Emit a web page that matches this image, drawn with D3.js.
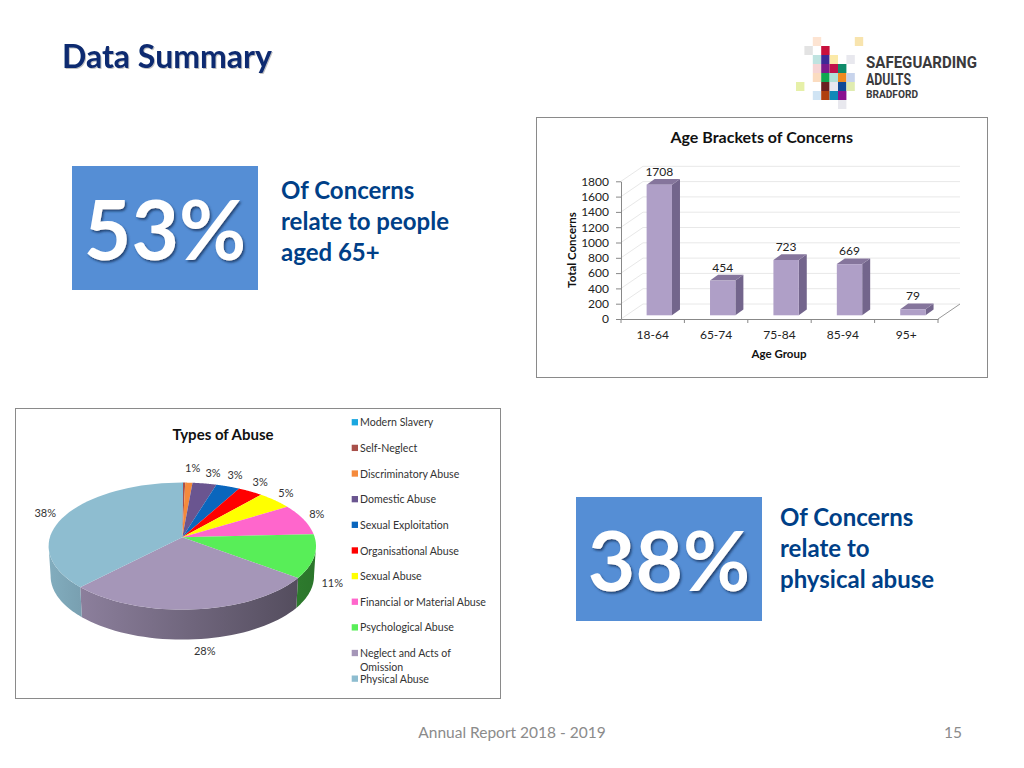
<!DOCTYPE html>
<html>
<head>
<meta charset="utf-8">
<title>Data Summary</title>
<script src="https://cdn.jsdelivr.net/npm/d3@7"></script>
<style>
  html, body { margin: 0; padding: 0; background: #fff; }
  svg { display: block; font-family: Lato, "Open Sans", sans-serif; }
</style>
</head>
<body>
<svg id="slide" width="1024" height="768"></svg>
<script>
// ── DATA ──────────────────────────────────────────────────────────
const ageGroups = ['18-64', '65-74', '75-84', '85-94', '95+'];
const ageConcerns = [1708, 454, 723, 669, 79];
const concernTicks = [0, 200, 400, 600, 800, 1000, 1200, 1400, 1600, 1800];

const abuseTypes = ['Modern Slavery', 'Self-Neglect', 'Discriminatory Abuse', 'Domestic Abuse',
  'Sexual Exploitation', 'Organisational Abuse', 'Sexual Abuse', 'Financial or Material Abuse',
  'Psychological Abuse', 'Neglect and Acts of Omission', 'Physical Abuse'];
const abuseShares = [0.1, 0.3, 1, 3.3, 3.3, 3.4, 4.8, 8, 11, 27, 37.8];
const abuseLabels = ['', '', '1%', '3%', '3%', '3%', '5%', '8%', '11%', '28%', '38%'];
const abuseColors = ['#1aa7e0', '#a8504a', '#f58a3c', '#6a5590', '#0a66bd', '#ff0000',
  '#ffff00', '#ff66cc', '#58ee58', '#a596b8', '#8ebdd0'];

const logoCells = [
  [2, 0, '#fde4d2'], [7, 0, '#f8e4ae'], [1, 1, '#e3e3e3'], [3, 1, '#c8103c'],
  [2, 2, '#bfe3e0'], [3, 2, '#3c2a96'], [4, 2, '#fbe9a8'], [6, 2, '#e8e8ee'],
  [2, 3, '#f6d5d5'], [3, 3, '#7b1a8a'], [4, 3, '#c0104a'], [5, 3, '#0e8a6a'],
  [2, 4, '#fbdcc0'], [3, 4, '#10a850'], [4, 4, '#b0e0d8'], [5, 4, '#f08a20'], [6, 4, '#c8d4ec'],
  [0, 5, '#e6f0a8'], [3, 5, '#6a2020'], [4, 5, '#e8e8f0'], [5, 5, '#104a96'], [6, 5, '#e0ecb0'],
  [2, 6, '#d0e4f4'], [3, 6, '#b0400e'], [4, 6, '#1088b8'], [5, 6, '#8a1090'], [5, 7, '#e8e8ee']
];

const svg = d3.select('#slide');
const defs = svg.append('defs');

const bigShadow = defs.append('filter').attr('id', 'bigShadow')
  .attr('x', '-10%').attr('y', '-10%').attr('width', '120%').attr('height', '120%');
bigShadow.append('feDropShadow').attr('dx', 1.5).attr('dy', 2)
  .attr('stdDeviation', 1).attr('flood-color', '#1c3c6c').attr('flood-opacity', 0.9);

const titleShadow = defs.append('filter').attr('id', 'titleShadow');
titleShadow.append('feDropShadow').attr('dx', 1).attr('dy', 1)
  .attr('stdDeviation', 0.6).attr('flood-color', '#000').attr('flood-opacity', 0.25);

// ── SLIDE FURNITURE ───────────────────────────────────────────────
svg.append('text').attr('x', 62).attr('y', 68)
  .attr('font-size', 32).attr('font-weight', 700).attr('fill', '#0b2a6f')
  .attr('filter', 'url(#titleShadow)').text('Data Summary');

function statBox(x, y, big, textX, textY, lines) {
  svg.append('rect').attr('x', x).attr('y', y).attr('width', 186).attr('height', 124).attr('fill', '#558ed5');
  svg.append('text').attr('x', x + 93).attr('y', y + 94).attr('text-anchor', 'middle')
    .attr('font-size', 82).attr('font-weight', 700).attr('fill', '#fff')
    .attr('filter', 'url(#bigShadow)').text(big);
  lines.forEach((l, i) => {
    svg.append('text').attr('x', textX).attr('y', textY + i * 30.8)
      .attr('font-size', 24).attr('font-weight', 700).attr('fill', '#003f87').text(l);
  });
}
statBox(72, 166, '53%', 281, 199, ['Of Concerns', 'relate to people', 'aged 65+']);
statBox(576, 497, '38%', 780, 526, ['Of Concerns', 'relate to', 'physical abuse']);

svg.append('text').attr('x', 512).attr('y', 738).attr('text-anchor', 'middle')
  .attr('font-size', 15.5).attr('fill', '#8b8b8b').text('Annual Report 2018 - 2019');
svg.append('text').attr('x', 962).attr('y', 738).attr('text-anchor', 'end')
  .attr('font-size', 15.5).attr('fill', '#8b8b8b').text('15');

// logo
const logo = svg.append('g');
logo.selectAll('rect').data(logoCells).enter().append('rect')
  .attr('x', d => 796 + d[0] * 8.4).attr('y', d => 37 + d[1] * 9)
  .attr('width', 8.4).attr('height', 9).attr('fill', d => d[2]);
[['SAFEGUARDING', 68, 16.5, 111], ['ADULTS', 85, 16.5, 45], ['BRADFORD', 98, 11, 52]].forEach(t => {
  logo.append('text').attr('x', 866).attr('y', t[1])
    .attr('font-family', 'Roboto, sans-serif').attr('font-size', t[2]).attr('font-weight', 700)
    .attr('fill', '#3a3a3c').attr('textLength', t[3]).attr('lengthAdjust', 'spacingAndGlyphs').text(t[0]);
});

// ── BAR CHART ─────────────────────────────────────────────────────
svg.append('rect').attr('x', 536.5).attr('y', 117.5).attr('width', 451).attr('height', 260)
  .attr('fill', '#fff').attr('stroke', '#8a8a8a');

const barX = d3.scaleBand().domain(ageGroups).range([621, 938]);
const barY = d3.scaleLinear().domain([0, 1800]).range([319, 181.3]);
const wallDx = 22, wallDy = 15;   // 3D wall offset
const barW = barX.bandwidth() * 0.4, barDx = 8, barDy = 5.7;

const barChart = svg.append('g');
concernTicks.forEach(t => {
  const y = barY(t);
  barChart.append('path')
    .attr('d', `M621,${y}L${621 + wallDx},${y - wallDy}L${938 + wallDx},${y - wallDy}`)
    .attr('fill', 'none').attr('stroke', '#e8e8e8');
});
barChart.append('path')
  .attr('d', `M938,319L${938 + wallDx},${319 - wallDy}`)
  .attr('fill', 'none').attr('stroke', '#999');

const yAxis = barChart.append('g').attr('transform', 'translate(621,0)')
  .call(d3.axisLeft(barY).tickValues(concernTicks).tickFormat(d3.format('d')).tickSize(5).tickSizeOuter(0).tickPadding(7));
const xAxis = barChart.append('g').attr('transform', 'translate(0,319)')
  .call(d3.axisBottom(barX).tickSize(0).tickPadding(11));
xAxis.selectAll('.edge').data(d3.range(ageGroups.length + 1)).enter().append('line')
  .attr('class', 'edge')
  .attr('x1', i => 621 + i * barX.step()).attr('x2', i => 621 + i * barX.step())
  .attr('y1', 0).attr('y2', 4).attr('stroke', '#888');
[yAxis, xAxis].forEach(a => {
  a.selectAll('path,.tick line').attr('stroke', '#888');
  a.selectAll('text').attr('font-family', 'Lato, sans-serif').attr('font-size', 12).attr('fill', '#222');
});

ageGroups.forEach((g, i) => {
  const v = ageConcerns[i];
  const x0 = barX(g) + barX.bandwidth() / 2 + 6.6 - barW / 2;
  const y1 = barY(0) - 3.7, y0 = barY(v) - 3.7;
  const b = barChart.append('g');
  b.append('path').attr('fill', '#73658c')
    .attr('d', `M${x0 + barW},${y0}l${barDx},${-barDy}L${x0 + barW + barDx},${y1 - barDy}L${x0 + barW},${y1}Z`);
  b.append('path').attr('fill', '#85759c')
    .attr('d', `M${x0},${y0}l${barDx},${-barDy}h${barW}l${-barDx},${barDy}Z`);
  b.append('rect').attr('x', x0).attr('y', y0).attr('width', barW).attr('height', y1 - y0).attr('fill', '#af9fc7');
  b.append('text').attr('x', x0 + barW / 2).attr('y', y0 - 9).attr('text-anchor', 'middle')
    .attr('font-size', 12).attr('fill', '#222').text(v);
});

barChart.append('text').attr('x', 761.7).attr('y', 142.7).attr('text-anchor', 'middle')
  .attr('font-size', 16).attr('font-weight', 700).attr('fill', '#111').text('Age Brackets of Concerns');
barChart.append('text').attr('x', 779).attr('y', 358).attr('text-anchor', 'middle')
  .attr('font-size', 11.5).attr('font-weight', 700).attr('fill', '#111').text('Age Group');
barChart.append('text').attr('transform', 'translate(576,250) rotate(-90)').attr('text-anchor', 'middle')
  .attr('font-size', 11.5).attr('font-weight', 700).attr('fill', '#111').text('Total Concerns');

// ── PIE CHART ─────────────────────────────────────────────────────
svg.append('rect').attr('x', 15.5).attr('y', 408.5).attr('width', 485).attr('height', 290)
  .attr('fill', '#fff').attr('stroke', '#8a8a8a');

svg.append('text').attr('x', 223).attr('y', 440).attr('text-anchor', 'middle')
  .attr('font-size', 15).attr('font-weight', 700).attr('fill', '#111').text('Types of Abuse');

// perspective projection of the pie disc onto the slide
const pieCx = 182.3, pieCy = 537.3, pieRx = 132.4, pieRy = 62.3, pieK = 0.1386, pieDepth = 30;
function rim(theta, s = 1) {
  const x = Math.sin(theta) * s, y = -Math.cos(theta) * s, d = 1 - pieK * y;
  return [pieCx + x * pieRx / d, pieCy + y * pieRy / d];
}
const arcs = d3.pie().sort(null).value(d => d)(abuseShares);
const pieG = svg.append('g');
const arcPts = (a, b, f = rim) => d3.range(0, 41).map(i => f(a + (b - a) * i / 40));
const wallFrom = Math.acos(-pieK), wallTo = 2 * Math.PI - wallFrom;

// side walls first, top face paints over them
arcs.forEach((a, i) => {
  const s = Math.max(a.startAngle, wallFrom), e = Math.min(a.endAngle, wallTo);
  if (e <= s) return;
  const top = arcPts(s, e);
  const bottom = top.slice().reverse().map(p => [pieCx + (p[0] - pieCx) * 0.985, p[1] + pieDepth]);
  const xs = top.map(p => p[0]);
  const x0 = d3.min(xs), x1 = d3.max(xs);
  const k = x => 0.25 + 1.75 * (x - (pieCx - 134)) / 268;
  const grad = defs.append('linearGradient').attr('id', 'wall' + i)
    .attr('gradientUnits', 'userSpaceOnUse').attr('x1', x0).attr('x2', x1).attr('y1', 0).attr('y2', 0);
  grad.append('stop').attr('offset', '0%').attr('stop-color', d3.color(abuseColors[i]).darker(k(x0)));
  grad.append('stop').attr('offset', '100%').attr('stop-color', d3.color(abuseColors[i]).darker(k(x1)));
  pieG.append('path').attr('d', d3.line()(top.concat(bottom)) + 'Z').attr('fill', `url(#wall${i})`);
});
arcs.forEach((a, i) => {
  const pts = [[pieCx, pieCy]].concat(arcPts(a.startAngle, a.endAngle));
  pieG.append('path').attr('d', d3.line()(pts) + 'Z').attr('fill', abuseColors[i]);
});

// percent labels sit just off the rim, nudged where Excel put them
const labelNudge = [[0, 0], [0, 0], [3, -9], [6, -4], [2, -6], [2, -4], [0, -3], [-2, -3], [0, 24], [8, 31], [-6, 1]];
arcs.forEach((a, i) => {
  if (!abuseLabels[i]) return;
  const p = rim((a.startAngle + a.endAngle) / 2, 1.13);
  pieG.append('text').attr('x', p[0] + labelNudge[i][0]).attr('y', p[1] + labelNudge[i][1] + 4)
    .attr('text-anchor', 'middle').attr('font-size', 11).attr('fill', '#333').text(abuseLabels[i]);
});

// legend
const legendY = d3.scalePoint().domain(abuseTypes).range([422.3, 678.7]);
const legend = svg.append('g');
abuseTypes.forEach((name, i) => {
  const y = legendY(name);
  legend.append('rect').attr('x', 351.7).attr('y', y - 3.2).attr('width', 6.3).attr('height', 6.3).attr('fill', abuseColors[i]);
  const lines = name === 'Neglect and Acts of Omission' ? ['Neglect and Acts of', 'Omission'] : [name];
  lines.forEach((l, j) => {
    legend.append('text').attr('x', 360).attr('y', y + 4 + j * 13.5)
      .attr('font-size', 10.6).attr('fill', '#333').text(l);
  });
});
</script>
</body>
</html>
